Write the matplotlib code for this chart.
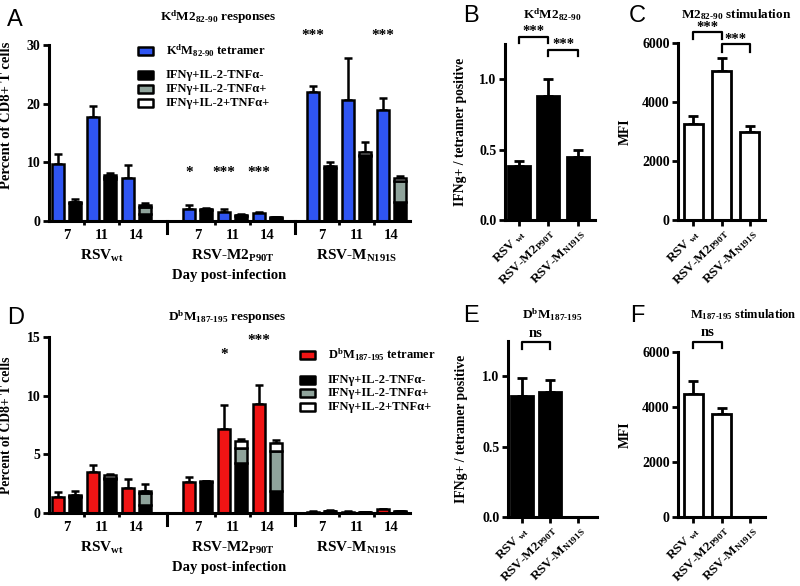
import matplotlib
matplotlib.use('Agg')
import matplotlib.pyplot as plt
import numpy as np
from matplotlib.transforms import blended_transform_factory as btf
from matplotlib.patches import Rectangle

plt.rcParams['font.family'] = ['Liberation Serif', 'DejaVu Serif']
plt.rcParams['font.weight'] = 'bold'
plt.rcParams['mathtext.fontset'] = 'custom'
plt.rcParams['mathtext.rm'] = 'Liberation Serif:bold'
plt.rcParams['mathtext.bf'] = 'Liberation Serif:bold'
plt.rcParams['mathtext.it'] = 'Liberation Serif:bold'
plt.rcParams['axes.linewidth'] = 2.2
plt.rcParams['axes.labelweight'] = 'bold'

# ---------------- data ----------------
days = ['7', '11', '14']
viruses = [r'RSV$_{wt}$', r'RSV-M2$_{P90T}$', r'RSV-M$_{N191S}$']
viruses_rot = [r'RSV$_{\ wt}$', r'RSV-M2$_{P90T}$', r'RSV-M$_{N191S}$']

# Panel A (K^d M2 82-90), rows = virus, cols = day
tetA = [[9.7, 17.8, 7.4], [2.1, 1.6, 1.3], [22.0, 20.7, 18.9]]
tetA_err = [[1.7, 1.8, 2.1], [0.6, 0.4, 0.2], [1.0, 7.1, 2.1]]
negA = [[3.1, 7.2, 1.2], [1.9, 0.9, 0.5], [9.0, 11.0, 3.2]]
tnfA = [[0.1, 0.3, 1.2], [0.1, 0.1, 0.1], [0.1, 0.3, 3.7]]
triA = [[0.1, 0.3, 0.3], [0.1, 0.1, 0.1], [0.2, 0.5, 0.4]]
cytA_err = [[0.4, 0.3, 0.3], [0.1, 0.1, 0.05], [0.8, 1.7, 0.3]]

# Panel D (D^b M 187-195)
tetD = [[1.4, 3.5, 2.1], [2.6, 7.2, 9.3], [0.1, 0.1, 0.3]]
tetD_err = [[0.4, 0.6, 0.8], [0.45, 2.0, 1.6], [0.03, 0.03, 0.05]]
negD = [[1.4, 2.9, 0.7], [2.6, 4.3, 1.9], [0.15, 0.05, 0.1]]
tnfD = [[0.05, 0.1, 1.0], [0.05, 1.2, 3.4], [0.02, 0.01, 0.03]]
triD = [[0.05, 0.25, 0.2], [0.05, 0.6, 0.7], [0.03, 0.01, 0.02]]
cytD_err = [[0.35, 0.1, 0.6], [0.05, 0.2, 0.2], [0.05, 0.02, 0.05]]

# Panels B, C, E, F
ratioB = [0.38, 0.88, 0.45]
ratioB_err = [0.04, 0.12, 0.045]
mfiC = [3270, 5050, 2990]
mfiC_err = [270, 430, 200]
ratioE = [0.86, 0.885]
ratioE_err = [0.13, 0.09]
mfiF = [4480, 3760]
mfiF_err = [450, 220]

# significance marks
sigA = [(1, 0, '*', 8.2), (1, 1, '***', 8.2), (1, 2, '***', 8.2), (2, 0, '***', 31.7), (2, 2, '***', 31.7)]
sigD = [(1, 1, '*', 13.5), (1, 2, '***', 14.7)]

BLUE = '#2f55f2'
RED = '#f01414'
GREY = '#8fa39b'

W, H = 800, 586
fig = plt.figure(figsize=(8, 5.86), dpi=100)
BW = 'bold'


def ax_px(x0, x1, ytop, ybot):
    return fig.add_axes([x0 / W, 1 - ybot / H, (x1 - x0) / W, (ybot - ytop) / H])


def style(ax):
    for s in ['top', 'right']:
        ax.spines[s].set_visible(False)
    ax.tick_params(axis='both', width=2, length=4, labelsize=10, pad=2)


def boldticks(ax):
    for lab in ax.get_xticklabels() + ax.get_yticklabels():
        lab.set_fontweight(BW)


def ftext(x, y, s, **kw):
    kw.setdefault('weight', BW)
    fig.text(x / W, 1 - y / H, s, **kw)


group_start = [0.0, 3.75, 7.3]
off = 0.245
bw = 0.33


def grouped(ax, tet, tet_err, neg, tnf, tri, cyt_err, col, ymax, sig, lsize, ly):
    style(ax)
    for g in range(3):
        for d in range(3):
            xc = group_start[g] + d
            xt, xk = xc - off, xc + off
            ax.bar(xt, tet[g][d], bw, color=col, edgecolor='k', lw=1.8, zorder=2)
            ax.errorbar(xt, tet[g][d], yerr=[[0], [tet_err[g][d]]], fmt='none',
                        ecolor='k', elinewidth=1.8, capsize=3, capthick=1.8, zorder=1)
            b1 = neg[g][d]
            b2 = b1 + tnf[g][d]
            tot = b2 + tri[g][d]
            ax.bar(xk, neg[g][d], bw, color='k', edgecolor='k', lw=1.8, zorder=2)
            ax.bar(xk, tnf[g][d], bw, bottom=b1, color=GREY, edgecolor='k', lw=1.8, zorder=2)
            ax.bar(xk, tri[g][d], bw, bottom=b2, color='white', edgecolor='k', lw=1.8, zorder=2)
            ax.errorbar(xk, tot, yerr=[[0], [cyt_err[g][d]]], fmt='none',
                        ecolor='k', elinewidth=1.8, capsize=3, capthick=1.8, zorder=1)
    ax.set_xlim(-0.5, 9.83)
    ax.set_ylim(0, ymax)
    centers = [group_start[g] + d for g in range(3) for d in range(3)]
    ax.set_xticks(centers)
    ax.set_xticklabels(days * 3)
    ax.tick_params(axis='x', length=0, pad=6, labelsize=10.5)
    minors = [group_start[g] + d + 0.5 for g in range(3) for d in range(2)]
    ax.set_xticks(minors, minor=True)
    ax.tick_params(axis='x', which='minor', length=3, width=2)
    tr = btf(ax.transData, ax.transAxes)
    for sx in [(group_start[0] + 2 + group_start[1]) / 2, (group_start[1] + 2 + group_start[2]) / 2]:
        ax.plot([sx, sx], [0, -0.07], transform=tr, color='k', lw=2.2, clip_on=False)
    for g in range(3):
        ax.text(group_start[g] + 1, -0.2, viruses[g], transform=tr, ha='center', va='center',
                fontsize=11, weight=BW)
    ax.text(0.5 * (group_start[0] + group_start[2] + 2), -0.31, 'Day post-infection', transform=tr,
            ha='center', va='center', fontsize=10.5, weight=BW)
    ax.set_ylabel('Percent of CD8+ T cells', fontsize=lsize, weight=BW)
    ax.yaxis.set_label_coords(-0.1, ly)
    for g, d, s, y in sig:
        ax.text(group_start[g] + d - off, y, s, ha='center', va='center', fontsize=11,
                clip_on=False, weight=BW)
    boldticks(ax)


def legend_block(px, ys, tet_col, tet_label):
    cols = [tet_col, 'k', GREY, 'white']
    labels = [tet_label, 'IFNγ+IL-2-TNFα-', 'IFNγ+IL-2-TNFα+', 'IFNγ+IL-2+TNFα+']
    for c, l, y in zip(cols, labels, ys):
        r = Rectangle((px / W, 1 - (y + 4) / H), 15 / W, 8 / H, transform=fig.transFigure,
                      fc=c, ec='k', lw=1.8, joinstyle='round')
        fig.add_artist(r)
        ftext(px + 28, y, l, va='center', ha='left', fontsize=9)


def simple(ax, vals, errs, fc, xlim, width, ymax, yticks, ylabel, lx):
    style(ax)
    x = np.arange(len(vals))
    ax.bar(x, vals, width, color=fc, edgecolor='k', lw=2, zorder=2)
    ax.errorbar(x, vals, yerr=[np.zeros(len(vals)), errs], fmt='none', ecolor='k',
                elinewidth=2, capsize=3.5, capthick=2, zorder=1)
    ax.set_xlim(*xlim)
    ax.set_ylim(0, ymax)
    ax.set_yticks(yticks)
    ax.set_xticks([0, 1, 2])
    ax.set_xticklabels(viruses_rot, rotation=45, ha='right', va='top', rotation_mode='anchor',
                       fontsize=9.5)
    ax.tick_params(axis='x', pad=1)
    ax.set_ylabel(ylabel, fontsize=9.8, weight=BW)
    ax.yaxis.set_label_coords(lx, 0.5)
    boldticks(ax)


def bracket(ax, x0, x1, ytop, ybot, label, ylab):
    ax.plot([x0, x0, x1, x1], [ybot, ytop, ytop, ybot], color='k', lw=1.6, clip_on=False)
    ax.text((x0 + x1) / 2, ylab, label, ha='center', va='center', fontsize=10.5, clip_on=False,
            weight=BW)


# Panel A
axA = ax_px(49, 410, 45, 221)
axA.set_yticks([0, 10, 20, 30])
grouped(axA, tetA, tetA_err, negA, tnfA, triA, cytA_err, BLUE, 30, sigA, 10.5, 0.6)
legend_block(138, [51, 75, 89, 103], BLUE, r'K$^{d}$M$_{82\text{-}90}$ tetramer')

# Panel D
axD = ax_px(49, 410, 337, 513)
axD.set_yticks([0, 5, 10, 15])
grouped(axD, tetD, tetD_err, negD, tnfD, triD, cytD_err, RED, 15, sigD, 9.8, 0.5)
legend_block(300, [355, 380, 393, 407], RED, r'D$^{b}$M$_{187\text{-}195}$ tetramer')

# Panel B
axB = ax_px(505, 595, 44, 220)
simple(axB, ratioB, ratioB_err, 'k', (-0.47, 2.58), 0.75, 1.25, [0.0, 0.5, 1.0],
       'IFNg+ / tetramer positive', -0.42)
axB.set_yticklabels(['0.0', '0.5', '1.0'], weight=BW)
bracket(axB, 0, 1, 1.30, 1.255, '***', 1.34)
bracket(axB, 1, 2, 1.21, 1.165, '***', 1.25)

# Panel C
axC = ax_px(678, 765, 43, 220)
simple(axC, mfiC, mfiC_err, 'white', (-0.53, 2.53), 0.67, 6000, [0, 2000, 4000, 6000], 'MFI', -0.53)
bracket(axC, 0, 1, 6370, 6150, '***', 6520)
bracket(axC, 1, 2, 5980, 5700, '***', 6130)

# Panel E
axE = ax_px(508, 597, 341, 517)
simple(axE, ratioE, ratioE_err, 'k', (-0.5, 2.68), 0.78, 1.25, [0.0, 0.5, 1.0],
       'IFNg+ / tetramer positive', -0.45)
axE.set_yticklabels(['0.0', '0.5', '1.0'], weight=BW)
bracket(axE, 0, 1, 1.24, 1.195, 'ns', 1.30)

# Panel F
axF = ax_px(678, 765, 352, 517)
simple(axF, mfiF, mfiF_err, 'white', (-0.53, 2.53), 0.67, 6000, [0, 2000, 4000, 6000], 'MFI', -0.53)
bracket(axF, 0, 1, 6370, 6140, 'ns', 6720)

# Titles
ftext(218, 17, r'K$^{d}$M2$_{82\text{-}90}$ responses', ha='center', va='center', fontsize=9.5)
ftext(227, 317, r'D$^{b}$M$_{187\text{-}195}$ responses', ha='center', va='center', fontsize=9.5)
ftext(552, 15, r'K$^{d}$M2$_{82\text{-}90}$', ha='center', va='center', fontsize=9.5)
ftext(736, 15, r'M2$_{82\text{-}90}$ stimulation', ha='center', va='center', fontsize=9.5)
ftext(552, 315, r'D$^{b}$M$_{187\text{-}195}$', ha='center', va='center', fontsize=9.5)
ftext(743, 315, r'M$_{187\text{-}195}$ stimulation', ha='center', va='center', fontsize=9)

# Panel letters
for lt, x, y in [('A', 7, 20), ('B', 463, 16), ('C', 629, 16), ('D', 7, 318), ('E', 463, 316), ('F', 630, 316)]:
    ftext(x, y, lt, ha='left', va='center', fontsize=17, family='Liberation Sans', weight='normal')

fig.savefig('out.png', dpi=100)
